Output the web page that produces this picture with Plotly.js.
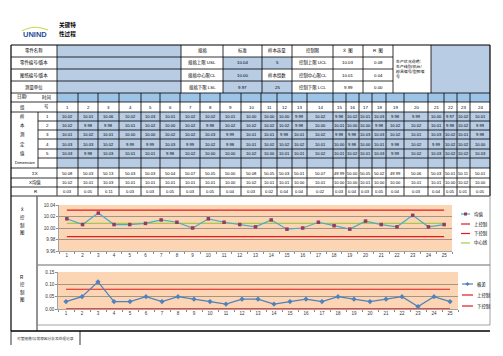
<!DOCTYPE html>
<html><head><meta charset="utf-8">
<script src="https://cdn.plot.ly/plotly-3.0.1.min.js"></script>
<style>html,body{margin:0;padding:0;background:#fff;}#chart{width:503px;height:356px;}</style>
</head><body><div id="chart"></div>
<script>
// ---------- DATA ----------
const groupNos = [1,2,3,4,5,6,7,8,9,10,11,12,13,14,15,16,17,18,19,20,21,22,23,24];
const sample1 = [10.02,10.01,10.06,10.02,10.03,10.01,10.02,10.02,10.01,10.00,10.00,10.00,9.99,10.02,9.98,10.02,10.01,10.03,9.98,9.99,10.00,9.97,10.02,10.01];
const sample2 = [10.02,9.98,9.98,10.01,10.02,10.00,10.02,9.98,10.02,10.02,10.02,10.02,9.98,10.00,10.01,10.00,10.00,9.98,10.02,10.02,10.01,9.98,10.02,9.99];
const sample3 = [10.01,10.02,10.01,10.00,10.00,10.02,10.02,10.03,9.99,10.01,10.01,9.98,10.01,10.02,9.98,9.98,10.03,10.03,10.02,10.01,10.03,10.02,10.01,9.98];
const sample4 = [10.03,10.03,10.02,9.99,9.99,10.03,9.99,10.02,9.98,10.01,10.02,10.02,10.02,10.01,10.00,9.98,10.00,10.01,9.98,10.02,9.99,10.02,10.02,10.00];
const sample5 = [10.03,9.98,10.03,10.01,10.01,9.98,10.02,10.00,10.00,10.02,10.00,10.01,10.01,10.02,10.01,10.02,10.01,10.03,9.99,10.02,10.03,10.02,10.02,10.03];
const sumX  = [50.08,50.03,50.13,50.03,50.03,50.04,50.07,50.05,50.00,50.08,50.05,50.03,50.01,50.07,49.99,50.00,50.05,50.02,49.99,50.06,50.03,50.01,50.11,50.01];
const meanX = [10.02,10.01,10.03,10.01,10.01,10.01,10.01,10.01,10.00,10.02,10.01,10.01,10.00,10.01,10.00,10.00,10.01,10.00,10.00,10.01,10.01,10.00,10.02,10.00];
const rangeTable = [0.03,0.05,0.11,0.03,0.03,0.05,0.03,0.05,0.04,0.03,0.02,0.04,0.04,0.02,0.03,0.04,0.03,0.05,0.04,0.03,0.04,0.05,0.01,0.05];

const specLabels = ['规格上限 USL','规格中心限CL','规格下限 LSL'];
const specValues = ['10.04','10.00','9.97'];
const ctrlLabels = ['控制上限 UCL','控制中心限CL','控制下限 LCL'];
const xbarLimits = ['10.03','10.01','9.99'];
const rLimits    = ['0.08','0.04','0.00'];
const sampleSize = '5';
const groupCount = '25';

const chartGroups = [1,2,3,4,5,6,7,8,9,10,11,12,13,14,15,16,17,18,19,20,21,22,23,24,25];
const xbarValues = [10.016,10.006,10.026,10.006,10.006,10.008,10.014,10.010,10.000,10.016,10.010,10.006,10.002,10.014,9.998,10.000,10.010,10.004,9.998,10.012,10.006,10.002,10.022,10.002,10.006];
const xUCL = [10.031,10.031,10.031,10.031,10.031,10.031,10.031,10.031,10.031,10.031,10.031,10.031,10.031,10.031,10.031,10.031,10.031,10.031,10.031,10.031,10.031,10.031,10.031,10.031,10.031];
const xLCL = [9.985,9.985,9.985,9.985,9.985,9.985,9.985,9.985,9.985,9.985,9.985,9.985,9.985,9.985,9.985,9.985,9.985,9.985,9.985,9.985,9.985,9.985,9.985,9.985,9.985];
const xCL  = [10.008,10.008,10.008,10.008,10.008,10.008,10.008,10.008,10.008,10.008,10.008,10.008,10.008,10.008,10.008,10.008,10.008,10.008,10.008,10.008,10.008,10.008,10.008,10.008,10.008];
const rValues = [0.03,0.05,0.11,0.03,0.03,0.05,0.03,0.05,0.04,0.03,0.02,0.04,0.04,0.02,0.03,0.04,0.03,0.05,0.04,0.03,0.04,0.05,0.01,0.05,0.03];
const rUCL = [0.08,0.08,0.08,0.08,0.08,0.08,0.08,0.08,0.08,0.08,0.08,0.08,0.08,0.08,0.08,0.08,0.08,0.08,0.08,0.08,0.08,0.08,0.08,0.08,0.08];
const rLCL = [0,0,0,0,0,0,0,0,0,0,0,0,0,0,0,0,0,0,0,0,0,0,0,0,0];

// ---------- LAYOUT HELPERS ----------
const W=503,H=356;
const X=v=>v/W, Y=v=>1-v/H;
const FONT='Liberation Sans, Noto Sans CJK SC, sans-serif';
const shapes=[], ann=[];
function hl(y,x0,x1,c,w){shapes.push({type:'line',xref:'paper',yref:'paper',x0:X(x0),x1:X(x1),y0:Y(y),y1:Y(y),line:{color:c||'#000',width:w||0.8},layer:'below'});}
function vl(x,y0,y1,c,w){shapes.push({type:'line',xref:'paper',yref:'paper',x0:X(x),x1:X(x),y0:Y(y0),y1:Y(y1),line:{color:c||'#000',width:w||0.8},layer:'below'});}
function fill(x0,y0,x1,y1,c){shapes.push({type:'rect',xref:'paper',yref:'paper',x0:X(x0),x1:X(x1),y0:Y(y1),y1:Y(y0),fillcolor:c,line:{width:0},layer:'below'});}
function txt(x,y,t,s,o){o=o||{};ann.push({xref:'paper',yref:'paper',x:X(x),y:Y(y),text:t,showarrow:false,
  xanchor:o.xa||'center',yanchor:'middle',align:o.align||'center',
  font:{size:s||4.4,color:o.color||'#000',family:FONT,weight:o.bold?'bold':'normal'}});}

const BLUE='#b8cce4', BLUE2='#9dc3e6';
// header block
const HR=[45,57,69,81,93];
const HC=[181,223,262,292,333,363,393,431,490];
fill(57,45,181,93,BLUE);
fill(223,57,262,93,BLUE);
fill(262,57,292,69,BLUE); fill(262,81,292,93,BLUE);
fill(431,45,490,93,BLUE);
// lower table
const C=[57,78,98,119,141,160,180,200,220,241,261,277,292,307,333,346,359,372,386,404,428,444,457,470,490];
const R=[93,102,112,121,130,139,149,158,168,178,187,196];
fill(57,93,490,102,BLUE2);
fill(57,112,490,168,BLUE);

// header lines
hl(45,11,490,'#000',1.2);
[57,69,81].forEach(y=>hl(y,11,393));
hl(93,11,490);
vl(11,45,331,'#000',1.2);
vl(57,45,93);
HC.forEach((x,i)=>vl(x,45,93,'#000',i===HC.length-1?1.2:0.8));
// table lines
R.slice(1).forEach((y,i)=>{
  if(y>112 && y<168) hl(y,38,490); else hl(y,11,490);
});
vl(57,93,196); vl(38,112,168);
C.slice(1).forEach((x,i)=>vl(x,93,196,'#000',i===C.length-2?1.2:0.8));
// chart boxes
vl(37,196,331,'#000',0.8);
shapes.push({type:'rect',xref:'paper',yref:'paper',x0:X(37),x1:X(490),y0:Y(265),y1:Y(196),line:{color:'#8c8c8c',width:0.8},layer:'below'});
shapes.push({type:'rect',xref:'paper',yref:'paper',x0:X(37),x1:X(490),y0:Y(325),y1:Y(265),line:{color:'#8c8c8c',width:0.8},layer:'below'});
hl(331,11,490,'#000',1.6);
vl(11,331,345); vl(80,331,345);

// logo + title
shapes.push({type:'path',xref:'paper',yref:'paper',
  path:`M ${X(22)} ${Y(31)} Q ${X(34)} ${Y(24)} ${X(48)} ${Y(30)}`,line:{color:'#c8d84a',width:1.2}});
txt(35,35,'<b>UNIND</b>',7.5,{color:'#1f4e9c'});
txt(57,25,'<b>关键特</b>',5.6,{xa:'left'});
txt(57,34,'<b>性过程</b>',5.6,{xa:'left'});

// header texts
['零件名称','零件编号/版本','图纸编号/版本','测量单位'].forEach((t,i)=>txt(34,(HR[i]+HR[i+1])/2,t));
const hc=i=>(HC[i]+HC[i+1])/2, hr=i=>(HR[i]+HR[i+1])/2;
['规格','标准','样本容量','控制限','X̄  图','R  图'].forEach((t,i)=>txt(hc(i),hr(0),t));
for(let r=0;r<3;r++){
  txt(hc(0),hr(r+1),specLabels[r]);
  txt(hc(1),hr(r+1),specValues[r]);
  txt(hc(3),hr(r+1),ctrlLabels[r]);
  txt(hc(4),hr(r+1),xbarLimits[r]);
  txt(hc(5),hr(r+1),rLimits[r]);
}
txt(hc(2),hr(1),sampleSize); txt(hc(2),hr(2),'样本组数'); txt(hc(2),hr(3),groupCount);
txt(394,69,'生产状况说明：<br>生产线别/机台/<br>模具编号/型腔编<br>号',3.9,{xa:'left',align:'left'});

// lower label texts
const rc=i=>(R[i]+R[i+1])/2;
txt(22,rc(0),'日期/'); txt(46,rc(0),'时间');
txt(22,rc(1),'组'); txt(46,rc(1),'号');
['样','本','测','定','值'].forEach((t,i)=>txt(22,rc(2+i),t));
txt(24.5,rc(7),'Dimension',4.2);
[1,2,3,4,5].forEach((n,i)=>txt(47.5,rc(2+i),String(n)));
txt(35,rc(8),'ΣX'); txt(35,rc(9),'X均值'); txt(35,rc(10),'R');

// data cells
const samples=[sample1,sample2,sample3,sample4,sample5];
groupNos.forEach((g,i)=>{
  const cx=(C[i]+C[i+1])/2;
  txt(cx,rc(1),String(g));
  samples.forEach((s,k)=>txt(cx,rc(2+k),s[i].toFixed(2),4.1));
  txt(cx,rc(8),sumX[i].toFixed(2),4.1);
  txt(cx,rc(9),meanX[i].toFixed(2),4.1);
  txt(cx,rc(10),rangeTable[i].toFixed(2),4.1);
});

// chart side labels
txt(22,209,'x̄',5); txt(22,217,'控'); txt(22,225,'制'); txt(22,233,'图');
txt(22,277,'R',4.6); txt(22,284.5,'控'); txt(22,292,'制'); txt(22,299.5,'图');
// bottom note
txt(45.5,338,'对策措施/异常原因分析及处理记录',3.7,{color:'#333'});

// custom legends
const RED='#e01b1b', GREEN='#a8c84a', CYAN='#4bacc6', MAROON='#953b5d', RBLUE='#4f81bd';
function legLine(x0,x1,y,c){shapes.push({type:'line',xref:'paper',yref:'paper',x0:X(x0),x1:X(x1),y0:Y(y),y1:Y(y),line:{color:c,width:1.2}});}
legLine(461,470,214,CYAN);
shapes.push({type:'rect',xref:'paper',yref:'paper',x0:X(464),x1:X(467),y0:Y(215.5),y1:Y(212.5),fillcolor:MAROON,line:{width:0}});
legLine(461,470,224,RED); legLine(461,470,233.5,RED); legLine(461,470,243,GREEN);
txt(471.5,214,'均值',4.4,{xa:'left'}); txt(471.5,224,'上控制',4.4,{xa:'left'});
txt(471.5,233.5,'下控制',4.4,{xa:'left'}); txt(471.5,243,'中心线',4.4,{xa:'left'});
legLine(462,473,284,RBLUE);
shapes.push({type:'path',xref:'paper',yref:'paper',path:`M ${X(467.5)} ${Y(282)} L ${X(469.5)} ${Y(284)} L ${X(467.5)} ${Y(286)} L ${X(465.5)} ${Y(284)} Z`,fillcolor:RBLUE,line:{width:0}});
legLine(462,473,295,RED); legLine(462,473,306,RED);
txt(474.5,284,'极差',4.4,{xa:'left'}); txt(474.5,295,'上控制',4.4,{xa:'left'}); txt(474.5,306,'下控制',4.4,{xa:'left'});

// ---------- TRACES ----------
const traces=[
  {x:chartGroups,y:xCL,mode:'lines',line:{color:GREEN,width:1.2},xaxis:'x',yaxis:'y',cliponaxis:false},
  {x:chartGroups,y:xUCL,mode:'lines',line:{color:RED,width:1.2},xaxis:'x',yaxis:'y',cliponaxis:false},
  {x:chartGroups,y:xLCL,mode:'lines',line:{color:RED,width:1.2},xaxis:'x',yaxis:'y',cliponaxis:false},
  {x:chartGroups,y:xbarValues,mode:'lines+markers',line:{color:CYAN,width:1.2},marker:{symbol:'square',size:3.5,color:MAROON},xaxis:'x',yaxis:'y',cliponaxis:false},
  {x:chartGroups,y:rUCL,mode:'lines',line:{color:RED,width:1.2},xaxis:'x2',yaxis:'y2',cliponaxis:false},
  {x:chartGroups,y:rLCL,mode:'lines',line:{color:RED,width:1.4},xaxis:'x2',yaxis:'y2',cliponaxis:false},
  {x:chartGroups,y:rValues,mode:'lines+markers',line:{color:RBLUE,width:1.2},marker:{symbol:'diamond',size:4,color:RBLUE},xaxis:'x2',yaxis:'y2',cliponaxis:false}
];
const axX=(d,anchor)=>({domain:d,anchor:anchor,range:[0.5,25.5],tickvals:chartGroups,ticks:'',showgrid:false,zeroline:false,
  showline:true,linecolor:'#8c8c8c',linewidth:0.8,tickfont:{size:4.5,color:'#333',family:FONT},
  minor:{ticks:'outside',ticklen:2,tick0:0.5,dtick:1,tickcolor:'#8c8c8c',showgrid:false},fixedrange:true});
const axY=(d,anchor,rng,dt)=>({domain:d,anchor:anchor,range:rng,tick0:rng[0],dtick:dt,tickformat:'.2f',
  showgrid:true,gridcolor:'#8f8278',gridwidth:0.8,zeroline:false,showline:true,linecolor:'#8c8c8c',linewidth:0.8,
  ticks:'outside',ticklen:2,tickcolor:'#8c8c8c',tickfont:{size:4.6,color:'#333',family:FONT},fixedrange:true});
const layout={
  width:W,height:H,margin:{l:0,r:0,t:0,b:0},paper_bgcolor:'#fff',plot_bgcolor:'#fcd5b4',showlegend:false,
  xaxis:axX([X(59),X(452)],'y'),
  yaxis:axY([Y(251),Y(205)],'x',[9.96,10.04],0.02),
  xaxis2:axX([X(58),X(458)],'y2'),
  yaxis2:axY([Y(309),Y(272)],'x2',[0,0.15],0.05),
  shapes:shapes,annotations:ann,font:{family:FONT}
};
Plotly.newPlot('chart',traces,layout,{staticPlot:true,displayModeBar:false});
</script>
</body></html>
